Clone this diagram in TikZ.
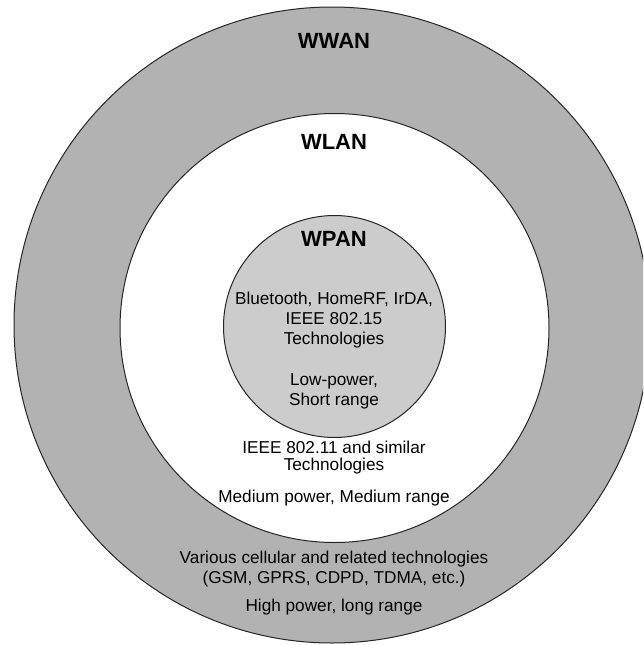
\documentclass[tikz,border=0pt]{standalone}
\usepackage{fontspec}
\setmainfont{Liberation Sans}
\usepackage{tikz}

\begin{document}
\begin{tikzpicture}[x=1pt, y=-1pt,
    ring/.style={draw=black!85, line width=1pt},
    title/.style={font=\fontsize{22}{26}\selectfont\bfseries},
    body/.style={font=\fontsize{17.2}{20}\selectfont, align=center, inner sep=0pt}]
            \useasboundingbox (0,0) rectangle (643,645);
            \clip (0,0) rectangle (643,645);
            \fill[white] (0,0) rectangle (643,645);
            \coordinate (cwan) at (332,325);
            \coordinate (clan) at (334.5,328);
            \coordinate (cpan) at (334.5,326.5);
            \draw[ring, fill=black!30] (cwan) circle (318);
            \draw[ring, fill=white] (clan) circle (214.5);
            \draw[ring, fill=black!20] (cpan) circle (111);
            \node[title] (wwan) at (334,41) {WWAN};
            \node[title] (wlan) at (334,142) {WLAN};
            \node[title] (wpan) at (334,239) {WPAN};
            \node[body] (pantech) at (334,320) {Bluetooth, HomeRF, IrDA,\\IEEE 802.15\\Technologies};
            \node[body] (panrange) at (334,391) {Low-power,\\Short range};
            \node[body, font=\fontsize{17.2}{17.5}\selectfont] (lantech) at (334,457.5) {IEEE 802.11 and similar\\Technologies};
            \node[body] (lanrange) at (334,498) {Medium power, Medium range};
            \node[body] (wantech) at (334,569) {Various cellular and related technologies\\(GSM, GPRS, CDPD, TDMA, etc.)};
            \node[body] (wanrange) at (334,607) {High power, long range};
        \end{tikzpicture}
\end{document}
